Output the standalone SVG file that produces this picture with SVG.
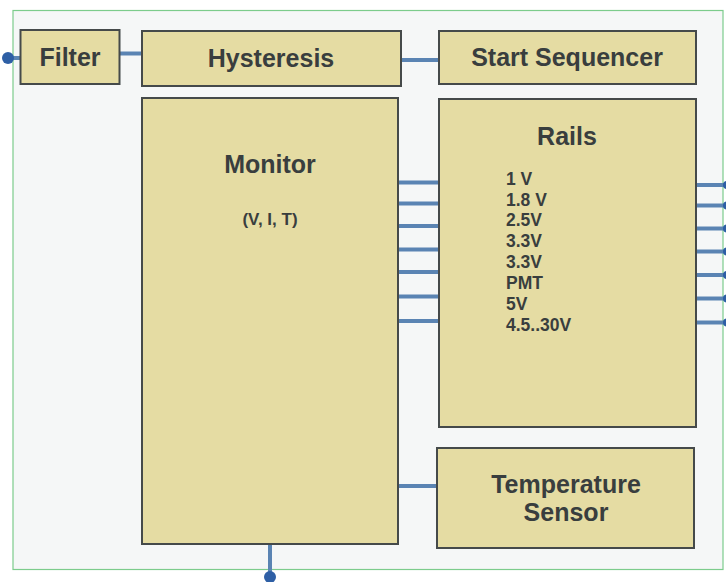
<svg xmlns="http://www.w3.org/2000/svg" width="726" height="582" viewBox="0 0 726 582">
<style>
.box{fill:#e5dca3;stroke:#454a4a;stroke-width:2}
.t{font-family:"Liberation Sans",Arial,sans-serif;font-weight:bold;fill:#393e3e;text-anchor:middle}
.l{font-family:"Liberation Sans",Arial,sans-serif;font-weight:bold;fill:#393e3e;font-size:17.5px}
.c{stroke:#5a84b3;stroke-width:4;fill:none}
.d{fill:#2e5fa5}
</style>
<rect x="13" y="10.5" width="710" height="559" fill="#f5f7f7" stroke="#7ccc8c" stroke-width="1.2"/>
<g id="connectors">
<line class="c" x1="8" y1="58" x2="20" y2="58"/>
<line class="c" x1="120" y1="53.5" x2="142" y2="53.5"/>
<line class="c" x1="401" y1="60" x2="439" y2="60"/>
<line class="c" x1="398" y1="182.5" x2="439" y2="182.5"/>
<line class="c" x1="398" y1="203.5" x2="439" y2="203.5"/>
<line class="c" x1="398" y1="226" x2="439" y2="226"/>
<line class="c" x1="398" y1="249.5" x2="439" y2="249.5"/>
<line class="c" x1="398" y1="272" x2="439" y2="272"/>
<line class="c" x1="398" y1="296.5" x2="439" y2="296.5"/>
<line class="c" x1="398" y1="321" x2="439" y2="321"/>
<line class="c" x1="696" y1="185" x2="726" y2="185"/>
<line class="c" x1="696" y1="205.5" x2="726" y2="205.5"/>
<line class="c" x1="696" y1="228.5" x2="726" y2="228.5"/>
<line class="c" x1="696" y1="251.5" x2="726" y2="251.5"/>
<line class="c" x1="696" y1="275" x2="726" y2="275"/>
<line class="c" x1="696" y1="298.5" x2="726" y2="298.5"/>
<line class="c" x1="696" y1="322.5" x2="726" y2="322.5"/>
<line class="c" x1="398" y1="486" x2="437" y2="486"/>
<line class="c" x1="270" y1="542" x2="270" y2="576"/>
<circle class="d" cx="8" cy="58" r="6"/>
<circle class="d" cx="270" cy="577" r="6"/>
<circle class="d" cx="727" cy="185" r="4"/>
<circle class="d" cx="727" cy="205.5" r="4"/>
<circle class="d" cx="727" cy="228.5" r="4"/>
<circle class="d" cx="727" cy="251.5" r="4"/>
<circle class="d" cx="727" cy="275" r="4"/>
<circle class="d" cx="727" cy="298.5" r="4"/>
<circle class="d" cx="727" cy="322.5" r="4"/>
</g>
<g id="filter"><rect class="box" x="20.5" y="30" width="99" height="54"/><text class="t" x="70" y="66" font-size="25">Filter</text></g>
<g id="hysteresis"><rect class="box" x="142" y="31" width="259" height="55"/><text class="t" x="271" y="67" font-size="25">Hysteresis</text></g>
<g id="start-sequencer"><rect class="box" x="439" y="31" width="257" height="53"/><text class="t" x="567" y="66" font-size="25">Start Sequencer</text></g>
<g id="monitor"><rect class="box" x="142" y="98" width="256" height="446"/><text class="t" x="270" y="173" font-size="25">Monitor</text><text class="t" x="270" y="225" font-size="17">(V, I, T)</text></g>
<g id="rails"><rect class="box" x="439" y="99" width="257" height="328"/><text class="t" x="567" y="145" font-size="25">Rails</text>
<text class="l" x="506" y="184.5">1 V</text>
<text class="l" x="506" y="205.5">1.8 V</text>
<text class="l" x="506" y="226">2.5V</text>
<text class="l" x="506" y="247">3.3V</text>
<text class="l" x="506" y="268">3.3V</text>
<text class="l" x="506" y="289">PMT</text>
<text class="l" x="506" y="310">5V</text>
<text class="l" x="506" y="331">4.5..30V</text>
</g>
<g id="temperature-sensor"><rect class="box" x="437" y="448" width="257" height="100"/><text class="t" x="566" y="493" font-size="25">Temperature</text><text class="t" x="566" y="521" font-size="25">Sensor</text></g>
</svg>
